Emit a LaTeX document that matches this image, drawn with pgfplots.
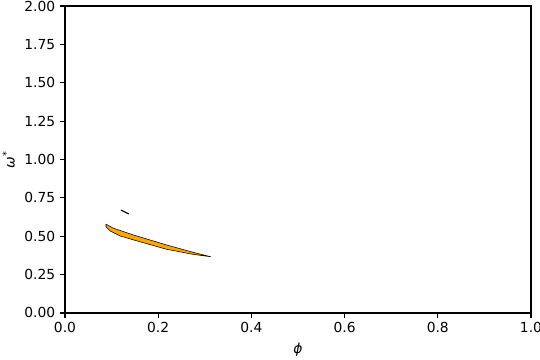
\documentclass[border=0pt]{standalone}
\usepackage{pgfplots}
\pgfplotsset{compat=1.18}
\usepackage{fontspec}
\setmainfont{DejaVu Sans}
\definecolor{mplorange}{HTML}{FFA500}
\begin{document}
\begin{tikzpicture}
\begin{axis}[
  name=ax,
  width=335.5bp, height=221bp, scale only axis,
  xmin=0, xmax=1, ymin=0, ymax=2,
  xtick={0,0.2,...,1.0}, ytick={0,0.25,...,2.0},
  xticklabel style={/pgf/number format/.cd,fixed,fixed zerofill,precision=1},
  yticklabel style={/pgf/number format/.cd,fixed,fixed zerofill,precision=2},
  /pgf/number format/assume math mode=true,
  tick label style={font=\fontsize{10}{12}\selectfont},
  label style={font=\fontsize{10}{12}\selectfont},
  xlabel={\textit{ϕ}}, ylabel={\textit{ω}\textsuperscript{*}},
  tick align=outside, tick pos=left,
  major tick length=3.5bp,
  axis line style={line width=0.8bp},
  every tick/.style={line width=0.8bp, black},
]
\addplot[fill=mplorange, draw=black, line width=0.4bp] coordinates {
 (0.088,0.578) (0.104,0.552) (0.147,0.508) (0.218,0.443) (0.275,0.395) (0.313,0.366)
 (0.275,0.382) (0.218,0.415) (0.147,0.476) (0.118,0.502) (0.097,0.534) (0.088,0.562) (0.088,0.578)
} -- cycle;
\addplot[black, line width=0.8bp] coordinates {(0.120,0.671) (0.137,0.645)};
\end{axis}
\pgfresetboundingbox
\path ([shift={(-46.8bp,-33.84bp)}]ax.south west) rectangle ([shift={(6.48bp,4.32bp)}]ax.north east);
\end{tikzpicture}
\end{document}
